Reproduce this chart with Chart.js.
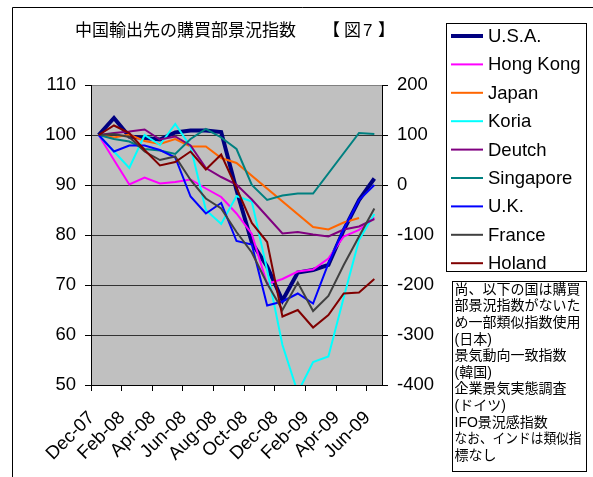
<!DOCTYPE html>
<html><head><meta charset="utf-8">
<script src="https://cdn.jsdelivr.net/npm/chart.js@4"></script>
<style>html,body{margin:0;padding:0;background:#fff;}#wrap{position:relative;width:593px;height:477px;}canvas{display:block;}</style>
</head><body><div id="wrap"><canvas id="c" width="593" height="477"></canvas></div>
<script>
const categories = ['Dec-07','Jan-08','Feb-08','Mar-08','Apr-08','May-08','Jun-08','Jul-08','Aug-08','Sep-08','Oct-08','Nov-08','Dec-08','Jan-09','Feb-09','Mar-09','Apr-09','May-09','Jun-09'];
const usa       = [100, 103.4, 99.7, 99.4, 99.1, 100.5, 100.9, 100.9, 100.6, 89, 78.5, 73.7, 66.9, 72.5, 73, 74, 81, 87, 91.3];
const hongKong  = [100, 95, 90.1, 91.5, 90.3, 90.6, 91.1, 89.3, 87.6, 84.3, 80.2, 70.2, 71.2, 72.7, 73.1, 75.3, 79.7, 81, 83.5];
const japan     = [100, 99.5, 100.1, 98.8, 98.2, 99.2, 97.7, 97.7, 95.4, 94.4, null, null, null, null, 81.6, 81.1, 82.5, 83.4, null];
const koria     = [100, 96.7, 93.4, 100, 98, 102.2, 97.7, 85, 82.2, 87.8, 86.7, 73, 58, 48.5, 54.6, 55.7, 67.5, 79, 84.2];
const deutch    = [100, 100.4, 100.7, 101.1, 99.1, 99.7, 97.9, 93.4, 91.6, 90.1, 87.1, 83.7, 80.3, 80.6, 80.1, 79.7, 81.1, 81.7, 83.2];
const singapore = [100, 99.2, 98.7, 97.2, 96.9, 96.2, 99.2, 101.2, 99.5, 97.2, 90, 87, 87.9, 88.3, 88.3, null, null, 100.4, 100.2];
const uk        = [100, 96.7, 97.9, 97.9, 97, 95.5, 87.7, 84.3, 86.4, 78.8, 78.1, 65.9, 66.7, 68.3, 66.3, 74.3, 81.2, 87, 90];
const france    = [100, 100.2, 99.6, 96.7, 95, 95.7, 91, 87.3, 85.3, 80.6, 76.5, 70.3, 65, 70.5, 64.8, 67.8, 74, 79.7, 85.3];
const holand    = [100, 101.9, 100.4, 97, 93.9, 94.6, 96.7, 93.1, 96.1, 89.4, 82.4, 78.6, 63.7, 65, 61.5, 64, 68.3, 68.5, 71.2];
const seriesNames = ['U.S.A.','Hong Kong','Japan','Koria','Deutch','Singapore','U.K.','France','Holand'];
const leftAxis = {min: 50, max: 110, step: 10};
const rightAxis = {min: -400, max: 200, step: 100};
const titleMain = '中国輸出先の購買部景況指数';
const titleFig = ['【', '図', '7', '】'];
const noteLines = ['尚、以下の国は購買','部景況指数がないた','め一部類似指数使用','(日本)','景気動向一致指数','(韓国)','企業景気実態調査','(ドイツ)','IFO景況感指数','なお、インドは類似指','標なし'];

const seriesData = [usa, hongKong, japan, koria, deutch, singapore, uk, france, holand];
const colors = ['#000080','#FF00FF','#FF6600','#00FFFF','#800080','#008080','#0000FF','#404040','#800000'];
const widths = [4,2,2,2,2,2,2,2,2];
const FONT = '"Liberation Sans", Arial, "Noto Sans CJK JP", sans-serif';

const decor = {
  id: 'decor',
  beforeDraw(chart) {
    const ctx = chart.ctx, a = chart.chartArea;
    ctx.save();
    ctx.fillStyle = '#fff';
    ctx.fillRect(0, 0, chart.width, chart.height);
    ctx.fillStyle = '#C0C0C0';
    ctx.fillRect(a.left, a.top, a.right - a.left, a.bottom - a.top);
    ctx.restore();
  },
  afterDraw(chart) {
    const ctx = chart.ctx;
    ctx.save();
    ctx.strokeStyle = '#000'; ctx.lineWidth = 1;
    ctx.beginPath(); ctx.moveTo(12.5, 477); ctx.lineTo(12.5, 7.5); ctx.lineTo(593, 7.5); ctx.stroke();
    ctx.fillStyle = '#000';
    ctx.font = '17px ' + FONT;
    ctx.textBaseline = 'middle'; ctx.textAlign = 'left';
    ctx.fillText(titleMain, 75, 31);
    const figX = [323, 344, 363, 378];
    titleFig.forEach((t, i) => ctx.fillText(t, figX[i], 31));
    ctx.strokeStyle = '#000'; ctx.lineWidth = 1;
    ctx.strokeRect(446.5, 23.5, 140, 248);
    ctx.font = '18.5px ' + FONT;
    chart.data.datasets.forEach((ds, i) => {
      const y = 36 + 28.4 * i;
      ctx.strokeStyle = ds.borderColor; ctx.lineWidth = ds.borderWidth;
      ctx.beginPath(); ctx.moveTo(451, y); ctx.lineTo(483, y); ctx.stroke();
      ctx.fillStyle = '#000';
      ctx.fillText(ds.label, 488, y + 1);
    });
    ctx.strokeStyle = '#000'; ctx.lineWidth = 1;
    ctx.strokeRect(452.5, 281.5, 134, 190);
    ctx.font = '14px ' + FONT;
    noteLines.forEach((t, i) => ctx.fillText(t, 454.5, 290 + 16.6 * i, 127));
    ctx.restore();
  }
};

new Chart(document.getElementById('c'), {
  type: 'line',
  data: {
    labels: categories,
    datasets: seriesData.map((d, i) => ({
      label: seriesNames[i], data: d, borderColor: colors[i], backgroundColor: colors[i],
      borderWidth: widths[i], pointRadius: 0, tension: 0, spanGaps: true, fill: false,
      yAxisID: 'y', order: seriesData.length - i
    }))
  },
  options: {
    responsive: false, animation: false, devicePixelRatio: 1,
    layout: {padding: {top: 85, left: 0, right: 151, bottom: 0}},
    plugins: {legend: {display: false}, title: {display: false}, tooltip: {enabled: false}},
    scales: {
      x: {
        type: 'category', offset: true,
        grid: {offset: true, drawOnChartArea: false, drawTicks: true, tickLength: 6,
          tickColor: c => (c.index % 2 === 0 ? '#000' : 'rgba(0,0,0,0)')},
        border: {color: '#000', width: 1},
        ticks: {autoSkip: false, maxRotation: 45, minRotation: 45, labelOffset: -7, padding: 16,
          color: '#000', font: {family: FONT, size: 18.5},
          callback: (v, i) => (i % 2 === 0 ? categories[i] : '')},
        afterFit: s => { s.height = 92; }
      },
      y: {
        position: 'left', min: leftAxis.min, max: leftAxis.max,
        ticks: {stepSize: leftAxis.step, padding: 9, color: '#000', font: {family: FONT, size: 18.5}},
        grid: {color: c => (c.tick && c.tick.value === leftAxis.max ? '#808080' : '#333333'),
          tickColor: '#000', tickLength: 6, drawTicks: true},
        border: {color: '#000', width: 1},
        afterFit: s => { s.width = 91; }
      },
      y2: {
        position: 'right', min: rightAxis.min, max: rightAxis.max,
        ticks: {stepSize: rightAxis.step, padding: 9, color: '#000', font: {family: FONT, size: 18.5}},
        grid: {drawOnChartArea: false, tickColor: '#000', tickLength: 6, drawTicks: true},
        border: {color: '#000', width: 1},
        afterFit: s => { s.width = 60; }
      }
    }
  },
  plugins: [decor]
});
</script></body></html>
